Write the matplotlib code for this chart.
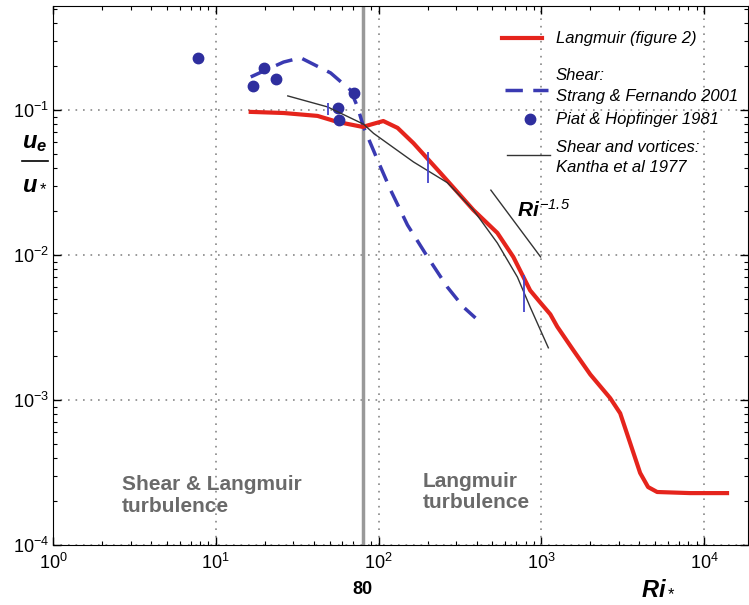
import matplotlib
matplotlib.use('Agg')
import matplotlib.pyplot as plt
from matplotlib.lines import Line2D
from matplotlib.ticker import LogLocator, NullFormatter

plt.rcParams['font.family'] = ['Liberation Sans', 'DejaVu Sans']
plt.rcParams['mathtext.fontset'] = 'custom'
plt.rcParams['mathtext.rm'] = 'Liberation Sans'
plt.rcParams['mathtext.it'] = 'Liberation Sans:italic:bold'
plt.rcParams['mathtext.bf'] = 'Liberation Sans:bold'
plt.rcParams['mathtext.sf'] = 'Liberation Sans:italic'

# Langmuir (figure 2)
lang_ri = [16.4, 26.1, 42.2, 56, 80, 92, 107, 131, 164, 240, 383, 537, 673, 854,
           986, 1136, 1254, 1571, 2000, 2650, 3053, 3515, 4048, 4530, 5150, 8200, 13840]
lang_ue = [0.097, 0.0953, 0.091, 0.0827, 0.0764, 0.080, 0.0839, 0.0752, 0.059, 0.0368,
           0.0204, 0.0142, 0.0097, 0.0057, 0.0047, 0.0039, 0.0032, 0.00221, 0.00150,
           0.00103, 0.00081, 0.000505, 0.000314, 0.000251, 0.000232, 0.000228, 0.000228]

# Shear: Strang & Fernando 2001
shear_ri = [16.4, 26.1, 33.2, 50.8, 67.3, 74.3, 80.9, 98.6, 118.5, 150.6, 200, 265, 332, 394]
shear_ue = [0.169, 0.214, 0.229, 0.180, 0.137, 0.105, 0.0764, 0.0452, 0.0281, 0.0161,
            0.0097, 0.0060, 0.00438, 0.00368]

# Piat & Hopfinger 1981
piat_ri = [7.76, 16.9, 19.7, 23.3, 56.0, 56.9, 70.3]
piat_ue = [0.229, 0.147, 0.195, 0.164, 0.103, 0.0853, 0.131]

# Shear and vortices: Kantha et al 1977
kantha_ri = [27.7, 48.6, 80.9, 93.2, 164, 265, 383, 537, 713, 854, 1105]
kantha_ue = [0.125, 0.105, 0.0798, 0.069, 0.0438, 0.0315, 0.0204, 0.0121, 0.00705,
             0.00438, 0.00229]

# Ri^-1.5 reference
slope_ri = [490, 990]
slope_ue = [0.028, 0.0097]

# short blue markers
bar_ri = [49, 200, 787]
bar_lo = [0.093, 0.0315, 0.00405]
bar_hi = [0.112, 0.051, 0.0073]

W, H = 749, 605
fig = plt.figure(figsize=(W / 100, H / 100), dpi=100)
ax = fig.add_axes([53 / W, 1 - 545 / H, (748 - 53) / W, (545 - 6) / H])


def fx(px):
    return px / W


def fy(py):
    return 1 - py / H


ax.set_xscale('log')
ax.set_yscale('log')
ax.set_xlim(1, 10 ** 4.27)
ax.set_ylim(1e-4, 10 ** -0.283)

ax.xaxis.set_major_locator(LogLocator(base=10, numticks=10))
ax.yaxis.set_major_locator(LogLocator(base=10, numticks=10))
ax.xaxis.set_minor_locator(LogLocator(base=10, subs=range(2, 10), numticks=20))
ax.yaxis.set_minor_locator(LogLocator(base=10, subs=range(2, 10), numticks=20))
ax.xaxis.set_minor_formatter(NullFormatter())
ax.yaxis.set_minor_formatter(NullFormatter())
ax.tick_params(which='both', direction='in', top=True, right=True, labelsize=13)
ax.tick_params(which='major', length=6, width=1)
ax.tick_params(which='minor', length=3, width=0.8)
ax.tick_params(axis='x', pad=6)
ax.tick_params(axis='y', pad=3)
ax.grid(True, which='major', linestyle=(0, (1, 3.5)), color='#888888', linewidth=1.2)

ax.axvline(80, color='#999999', lw=2.5, zorder=2)

ax.plot(shear_ri, shear_ue, color='#3a3ab2', lw=2.5, dashes=(5, 3), zorder=3)
ax.plot(piat_ri, piat_ue, 'o', color='#2e2e9e', ms=7.5, zorder=4)
ax.plot(kantha_ri, kantha_ue, color='#333333', lw=1.0, zorder=4)
ax.plot(slope_ri, slope_ue, color='#333333', lw=1.0, zorder=4)
ax.plot(lang_ri, lang_ue, color='#e5241c', lw=3, zorder=3)
ax.vlines(bar_ri, bar_lo, bar_hi, color='#4444cc', lw=1.3, zorder=5)

ax.text(fx(517), fy(210), r'$Ri^{\mathsf{-1.5}}$', transform=fig.transFigure,
        fontsize=15, va='center', ha='left')

gray = '#6a6a6a'
ax.text(fx(122), fy(496), 'Shear & Langmuir\nturbulence', transform=fig.transFigure,
        fontsize=15, fontweight='bold', color=gray, va='center', ha='left',
        linespacing=1.2)
ax.text(fx(423), fy(492), 'Langmuir\nturbulence', transform=fig.transFigure,
        fontsize=15, fontweight='bold', color=gray, va='center', ha='left',
        linespacing=1.15)

# axis labels
fig.text(fx(362), fy(590), '80', fontsize=13, fontweight='bold', ha='center', va='center')
fig.text(fx(658), fy(588), r'$Ri_*$', fontsize=17, ha='center', va='center')
fig.text(fx(35), fy(143), r'$u_e$', fontsize=17, ha='center', va='center')
fig.add_artist(Line2D([fx(22), fx(48)], [fy(161), fy(161)], color='black', lw=1.2))
fig.text(fx(35), fy(183), r'$u_*$', fontsize=17, ha='center', va='center')

# legend
fig.add_artist(Line2D([fx(502), fx(542)], [fy(38), fy(38)], color='#e5241c', lw=3))
fig.add_artist(Line2D([fx(505), fx(548)], [fy(90), fy(90)], color='#3a3ab2', lw=2.5,
                      dashes=(5, 3)))
fig.add_artist(Line2D([fx(530)], [fy(119)], marker='o', color='#2e2e9e', ms=7.5, lw=0))
fig.add_artist(Line2D([fx(507), fx(550)], [fy(155), fy(155)], color='#333333', lw=1.0))
leg_txt = [('Langmuir (figure 2)', 38), ('Shear:', 75), ('Strang & Fernando 2001', 97),
           ('Piat & Hopfinger 1981', 119), ('Shear and vortices:', 148),
           ('Kantha et al 1977', 167)]
for s, py in leg_txt:
    fig.text(fx(556), fy(py), s, fontsize=12, fontstyle='italic', ha='left', va='center')

fig.savefig('out.png', dpi=100)
